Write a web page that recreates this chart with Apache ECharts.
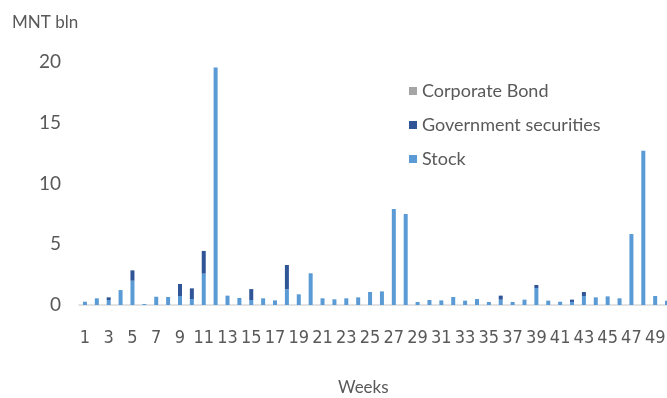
<!DOCTYPE html>
<html>
<head>
<meta charset="utf-8">
<script src="https://cdn.jsdelivr.net/npm/echarts@6/dist/echarts.min.js"></script>
<style>html,body{margin:0;padding:0;background:#fff}#c{width:667px;height:398px}</style>
</head>
<body>
<div id="c"></div>
<script>
const weeks = Array.from({length: 50}, (_, i) => String(i + 1));
const stock = [0.27,0.55,0.41,1.23,2.0,0.08,0.68,0.66,0.74,0.49,
               2.58,19.55,0.77,0.58,0.41,0.55,0.38,1.29,0.88,2.61,
               0.55,0.47,0.55,0.63,1.07,1.12,7.9,7.49,0.25,0.41,
               0.38,0.66,0.36,0.49,0.25,0.44,0.25,0.44,1.4,0.36,
               0.27,0.25,0.74,0.63,0.71,0.55,5.84,12.7,0.74,0.36];
const government = [0,0,0.22,0,0.85,0,0,0,0.99,0.88,
                    1.87,0,0,0,0.9,0,0,2.0,0,0,
                    0,0,0,0,0,0,0,0,0,0,
                    0,0,0,0,0,0.33,0,0,0.25,0,
                    0,0.19,0.33,0,0,0,0,0,0,0];
const corporate = new Array(50).fill(0);
const yTicks = [0, 5, 10, 15, 20];

const FONT = 'Lato';
const NARROW = '"Liberation Sans Narrow", "DejaVu Sans Condensed", Lato';
const TXT = '#595959';
const chart = echarts.init(document.getElementById('c'), null, {renderer: 'canvas'});
chart.setOption({
  animation: false,
  textStyle: {fontFamily: FONT},
  title: [
    {text: 'MNT bln', left: 7, top: 9, textStyle: {fontFamily: FONT, fontSize: 17, fontWeight: 'normal', color: TXT}},
    {text: 'Weeks', left: 333, top: 374, textStyle: {fontFamily: FONT, fontSize: 17, fontWeight: 'normal', color: TXT}}
  ],
  legend: {
    orient: 'vertical', left: 404, top: 77,
    itemWidth: 8, itemHeight: 8, itemGap: 16,
    icon: 'rect',
    data: ['Corporate Bond', 'Government securities', 'Stock'],
    textStyle: {fontFamily: FONT, fontSize: 18, color: TXT, padding: [0,0,0,0]}
  },
  grid: {left: 79, right: -6, top: 62, bottom: 93, outerBoundsMode: 'none'},
  xAxis: {
    type: 'category', data: weeks,
    axisLine: {lineStyle: {color: '#d9d9d9', width: 1.5}},
    axisTick: {show: false},
    axisLabel: {interval: 1, color: TXT, fontSize: 18, fontFamily: NARROW, margin: 24}
  },
  yAxis: {
    type: 'value', min: yTicks[0], max: yTicks[yTicks.length-1], interval: 5,
    splitLine: {show: false},
    axisLine: {show: false}, axisTick: {show: false},
    axisLabel: {color: TXT, fontSize: 19, fontFamily: FONT, margin: 18}
  },
  series: [
    {name: 'Stock', type: 'bar', stack: 's', data: stock, barWidth: 4, itemStyle: {color: '#5B9BD5'}},
    {name: 'Government securities', type: 'bar', stack: 's', data: government, barWidth: 4, itemStyle: {color: '#2F5597'}},
    {name: 'Corporate Bond', type: 'bar', stack: 's', data: corporate, barWidth: 4, itemStyle: {color: '#A5A5A5'}}
  ]
});
</script>
</body>
</html>
